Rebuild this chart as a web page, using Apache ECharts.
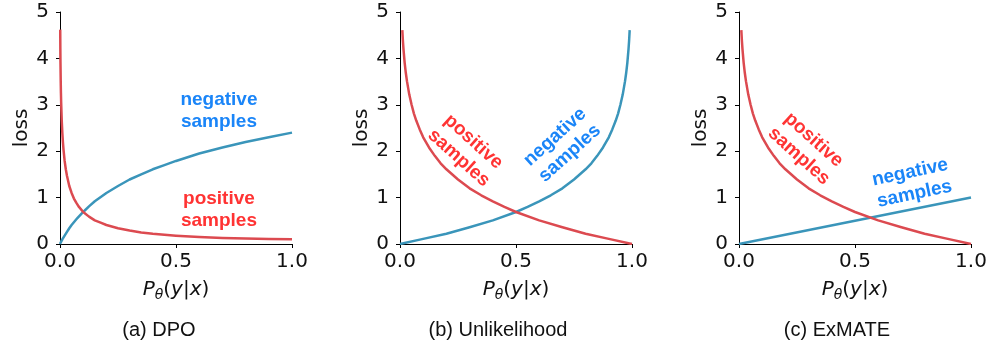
<!DOCTYPE html>
<html>
<head>
<meta charset="utf-8">
<script src="https://cdn.jsdelivr.net/npm/echarts@6/dist/echarts.min.js"></script>
<style>html,body{margin:0;padding:0;background:#fff}#c{width:990px;height:344px}</style>
</head>
<body>
<div id="c"></div>
<script>
// ---- data ----
const xTickLabels = ['0.0', '0.5', '1.0'];
const yTickLabels = ['0', '1', '2', '3', '4', '5'];
const captions = ['(a) DPO', '(b) Unlikelihood', '(c) ExMATE'];

// (a) DPO
const dpoPosX = [0.001,0.0015,0.002,0.003,0.004,0.005,0.0075,0.01,0.0125,0.015,0.02,0.025,0.03,0.04,0.05,0.06,0.07,0.08,0.1,0.125,0.15,0.175,0.2,0.25,0.3,0.35,0.4,0.5,0.6,0.7,0.8,0.9,1.0];
const dpoPosY = [4.62,4.20,3.93,3.54,3.26,3.05,2.66,2.40,2.20,2.04,1.79,1.61,1.47,1.25,1.10,0.98,0.89,0.81,0.69,0.59,0.51,0.46,0.41,0.34,0.29,0.25,0.22,0.18,0.15,0.13,0.12,0.11,0.10];
const dpoNegX = [0,0.005,0.01,0.02,0.03,0.04,0.05,0.075,0.1,0.125,0.15,0.2,0.25,0.3,0.35,0.4,0.45,0.5,0.6,0.7,0.8,0.9,1.0];
const dpoNegY = [0,0.05,0.10,0.18,0.26,0.34,0.41,0.56,0.69,0.81,0.92,1.10,1.25,1.39,1.50,1.61,1.70,1.79,1.95,2.08,2.20,2.30,2.40];

// (b) Unlikelihood
const ulPosX = [0.01,0.0125,0.015,0.02,0.025,0.03,0.04,0.05,0.06,0.07,0.085,0.1,0.125,0.15,0.175,0.2,0.25,0.3,0.35,0.4,0.45,0.5,0.6,0.7,0.8,0.9,1.0];
const ulPosY = [4.61,4.38,4.20,3.91,3.69,3.51,3.22,3.00,2.81,2.66,2.47,2.30,2.08,1.90,1.74,1.61,1.39,1.20,1.05,0.92,0.80,0.69,0.51,0.36,0.22,0.11,0.0];
const ulNegX = [0,0.1,0.2,0.3,0.4,0.5,0.55,0.6,0.65,0.7,0.75,0.8,0.825,0.85,0.875,0.9,0.915,0.93,0.94,0.95,0.96,0.97,0.975,0.98,0.985,0.9875,0.99];
const ulNegY = [0.0,0.11,0.22,0.36,0.51,0.69,0.80,0.92,1.05,1.20,1.39,1.61,1.74,1.90,2.08,2.30,2.47,2.66,2.81,3.00,3.22,3.51,3.69,3.91,4.20,4.38,4.61];

// (c) ExMATE
const exPosX = [0.01,0.0125,0.015,0.02,0.025,0.03,0.04,0.05,0.06,0.07,0.085,0.1,0.125,0.15,0.175,0.2,0.25,0.3,0.35,0.4,0.45,0.5,0.6,0.7,0.8,0.9,1.0];
const exPosY = [4.61,4.38,4.20,3.91,3.69,3.51,3.22,3.00,2.81,2.66,2.47,2.30,2.08,1.90,1.74,1.61,1.39,1.20,1.05,0.92,0.80,0.69,0.51,0.36,0.22,0.11,0.0];
const exNegX = [0, 0.5, 1.0];
const exNegY = [0, 0.5, 1.0];

// annotations: [panel, text, x, y, rotation(deg), kind]
const annotations = [
  [0, 'negative\nsamples', 0.685, 2.87, 0, 'neg'],
  [0, 'positive\nsamples', 0.685, 0.73, 0, 'pos'],
  [1, 'positive\nsamples', 0.285, 2.03, -42, 'pos'],
  [1, 'negative\nsamples', 0.70, 2.13, 42, 'neg'],
  [2, 'positive\nsamples', 0.29, 2.07, -42, 'pos'],
  [2, 'negative\nsamples', 0.747, 1.31, 12, 'neg']
];

// ---- styling ----
const RED_LINE = '#dc4a50', BLUE_LINE = '#3a95ba';
const RED_TXT = '#ff3333', BLUE_TXT = '#1a85f8';
const gridLefts = [60, 400, 739];
const captionX = [159, 498, 837];

const zip = (xs, ys) => xs.map((x, i) => [x, ys[i]]);
const curves = [
  [zip(dpoPosX, dpoPosY), zip(dpoNegX, dpoNegY)],
  [zip(ulPosX, ulPosY), zip(ulNegX, ulNegY)],
  [zip(exPosX, exPosY), zip(exNegX, exNegY)]
];

const grids = [], xAxes = [], yAxes = [], series = [];
for (let i = 0; i < 3; i++) {
  grids.push({left: gridLefts[i], top: 12, width: 232, height: 232, outerBoundsMode: 'none', containLabel: false});
  xAxes.push({
    type: 'value', gridIndex: i, min: 0, max: 1, interval: 0.5,
    splitLine: {show: false},
    axisLine: {show: true, onZero: false, lineStyle: {color: '#000', width: 1}},
    axisTick: {show: true, length: 4, lineStyle: {color: '#000', width: 1}},
    axisLabel: {margin: 8, fontSize: 20, color: '#111', fontFamily: 'DejaVu Sans',
      formatter: v => xTickLabels[Math.round(v / 0.5)]},
    name: '{i|P}{s|θ}{n|(}{i|y}{n||}{i|x}{n|)}',
    nameLocation: 'middle', nameGap: 34,
    nameTextStyle: {
      color: '#111',
      rich: {
        i: {fontSize: 20, fontStyle: 'italic', fontFamily: 'DejaVu Sans', lineHeight: 24, color: '#111'},
        n: {fontSize: 20, fontFamily: 'DejaVu Sans', lineHeight: 24, color: '#111'},
        s: {fontSize: 14, fontStyle: 'italic', fontFamily: 'DejaVu Sans', lineHeight: 12, verticalAlign: 'bottom', color: '#111'}
      }
    }
  });
  yAxes.push({
    type: 'value', gridIndex: i, min: 0, max: 5, interval: 1,
    splitLine: {show: false},
    axisLine: {show: true, onZero: false, lineStyle: {color: '#000', width: 1}},
    axisTick: {show: true, length: 4, lineStyle: {color: '#000', width: 1}},
    axisLabel: {margin: 11, fontSize: 20, color: '#111', fontFamily: 'DejaVu Sans',
      formatter: v => yTickLabels[Math.round(v)]},
    name: 'loss', nameLocation: 'middle', nameGap: 28,
    nameTextStyle: {fontSize: 20, fontFamily: 'DejaVu Sans', color: '#111'}
  });
  series.push({
    type: 'line', xAxisIndex: i, yAxisIndex: i, data: curves[i][0],
    showSymbol: false, smooth: false, silent: true,
    lineStyle: {color: RED_LINE, width: 2.5, join: 'round'}, z: 3
  });
  series.push({
    type: 'line', xAxisIndex: i, yAxisIndex: i, data: curves[i][1],
    showSymbol: false, smooth: false, silent: true,
    lineStyle: {color: BLUE_LINE, width: 2.5, join: 'round'}, z: 2
  });
}

annotations.forEach(a => {
  series.push({
    type: 'scatter', xAxisIndex: a[0], yAxisIndex: a[0], silent: true,
    symbolSize: 0, data: [[a[2], a[3]]], z: 5,
    itemStyle: {opacity: 1},
    label: {
      show: true, position: 'inside', formatter: a[1], rotate: a[4],
      align: 'center', verticalAlign: 'middle', opacity: 1,
      fontFamily: 'Liberation Sans', fontWeight: 'bold', fontSize: 19, lineHeight: 22,
      color: a[5] === 'pos' ? RED_TXT : BLUE_TXT,
      textBorderWidth: 0, textBorderColor: 'transparent', textShadowBlur: 0
    }
  });
});

const graphic = captions.map((t, i) => ({
  type: 'text', x: captionX[i], y: 330, silent: true,
  style: {text: t, align: 'center', verticalAlign: 'middle', fontSize: 20,
    fontFamily: 'Liberation Sans', fill: '#111'}
}));

const chart = echarts.init(document.getElementById('c'), null, {renderer: 'canvas'});
chart.setOption({
  animation: false,
  backgroundColor: '#fff',
  grid: grids, xAxis: xAxes, yAxis: yAxes, series: series, graphic: graphic
});
</script>
</body>
</html>
